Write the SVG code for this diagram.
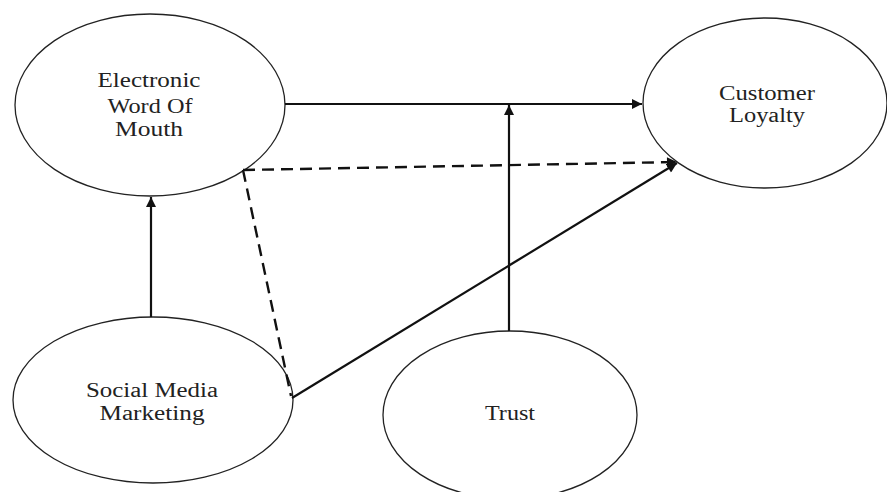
<svg xmlns="http://www.w3.org/2000/svg" width="887" height="492" viewBox="0 0 887 492">
<style>
.node ellipse{fill:#fff;stroke:#222;stroke-width:1.3}
.node text{font-family:"Liberation Serif","Times New Roman",serif;font-size:20px;fill:#222;text-anchor:middle}
.edge{stroke:#111;stroke-width:2.2;fill:none}
.dash{stroke-dasharray:12 7;stroke-width:2.4}
</style>
<defs>
<marker id="ah" viewBox="0 0 10 10" refX="10" refY="5" markerWidth="11" markerHeight="10" markerUnits="userSpaceOnUse" orient="auto">
<path d="M0,0 L10,5 L0,10 z" fill="#111"/>
</marker>
</defs>
<rect width="887" height="492" fill="#fff"/>
<g id="ewom" class="node">
<ellipse cx="150" cy="105" rx="135" ry="91"/>
<text x="149" y="87" textLength="103" lengthAdjust="spacingAndGlyphs">Electronic</text>
<text x="150" y="113" textLength="85" lengthAdjust="spacingAndGlyphs">Word Of</text>
<text x="149" y="136" textLength="68" lengthAdjust="spacingAndGlyphs">Mouth</text>
</g>
<g id="loyalty" class="node">
<ellipse cx="765" cy="103" rx="122" ry="85"/>
<text x="767" y="100" textLength="96" lengthAdjust="spacingAndGlyphs">Customer</text>
<text x="767" y="122" textLength="76" lengthAdjust="spacingAndGlyphs">Loyalty</text>
</g>
<g id="smm" class="node">
<ellipse cx="153" cy="400" rx="140" ry="83"/>
<text x="152" y="397" textLength="132" lengthAdjust="spacingAndGlyphs">Social Media</text>
<text x="152" y="420" textLength="105" lengthAdjust="spacingAndGlyphs">Marketing</text>
</g>
<g id="trust" class="node">
<ellipse cx="510" cy="415" rx="127" ry="84"/>
<text x="510" y="420" textLength="50" lengthAdjust="spacingAndGlyphs">Trust</text>
</g>
<g id="connectors">
<line class="edge" x1="285" y1="104" x2="642" y2="104" marker-end="url(#ah)"/>
<line class="edge" x1="509" y1="331" x2="509" y2="105" marker-end="url(#ah)"/>
<line class="edge" x1="151" y1="317" x2="151" y2="197" marker-end="url(#ah)"/>
<line class="edge" x1="292" y1="398" x2="677" y2="163" marker-end="url(#ah)"/>
<line class="edge dash" x1="243" y1="170" x2="677" y2="162" marker-end="url(#ah)"/>
<line class="edge dash" x1="243" y1="170" x2="291" y2="396"/>
</g>
</svg>
